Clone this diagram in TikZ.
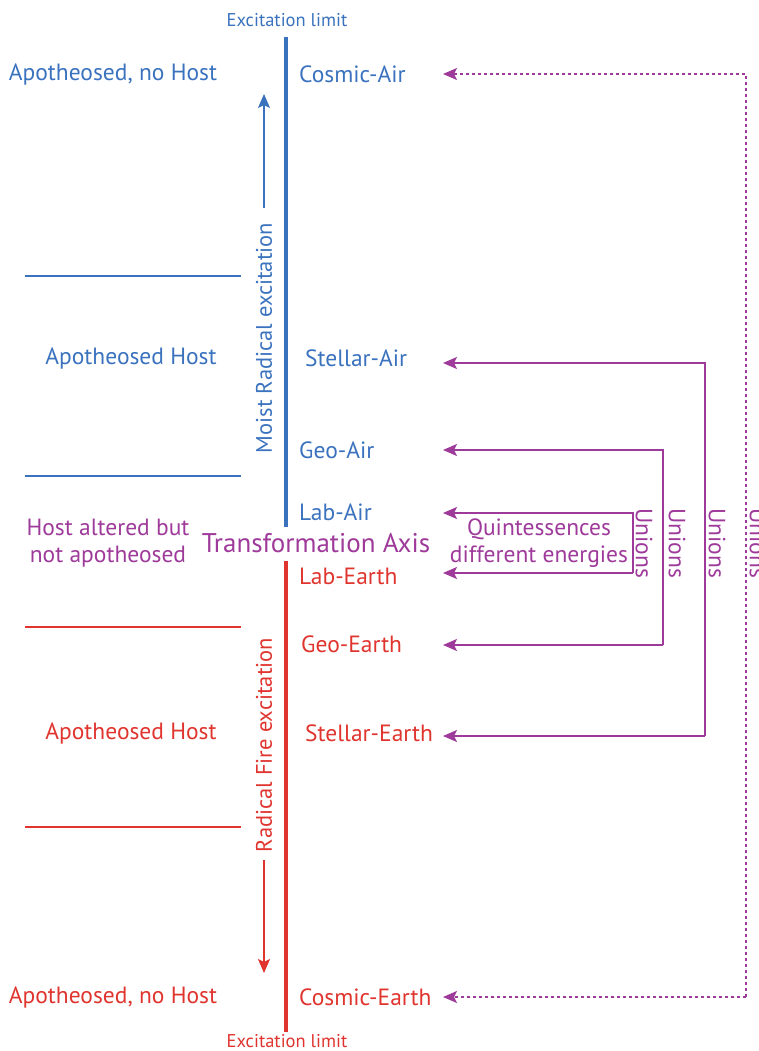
\documentclass[tikz,border=0pt]{standalone}
\usepackage{fontspec}
\setmainfont{PT Sans}
\usetikzlibrary{arrows.meta}
\definecolor{cblue}{RGB}{58,114,190}
\definecolor{cred}{RGB}{224,52,46}
\definecolor{cpurp}{RGB}{158,58,154}
\tikzset{
  lbl/.style={font=\fontsize{23.5}{27.5}\selectfont, inner sep=0pt},
  small/.style={font=\fontsize{18.5}{22}\selectfont, inner sep=0pt},
  axisline/.style={line width=4pt},
  sep/.style={line width=1.5pt},
  union/.style={cpurp, line width=1.8pt, -{Stealth[length=14pt,width=12pt,inset=3pt]}},
  dir/.style={line width=1.5pt, -{Stealth[length=14pt,width=12pt,inset=3pt]}},
}
\begin{document}
\begin{tikzpicture}[x=1pt,y=-1pt]
\useasboundingbox (0,0) rectangle (759,1051);
% axes
\coordinate (bt) at (286,37);
\coordinate (bb) at (286,527);
\coordinate (rt) at (286,561);
\coordinate (rb) at (286,1032);
\draw[cblue,axisline] (bt) -- (bb);
\draw[cred,axisline] (rt) -- (rb);
\node[small,cblue] (exl1) at (287,20) {Excitation limit};
\node[small,cred] (exl2) at (287,1041) {Excitation limit};
% direction labels
\node[font=\fontsize{22.5}{26}\selectfont,inner sep=0pt,cblue,rotate=90] (moist) at (264,338) {Moist Radical excitation};
\coordinate (m1) at (264,208);
\coordinate (m2) at (264,94);
\draw[cblue,dir] (m1) -- (m2);
\node[font=\fontsize{22.5}{26}\selectfont,inner sep=0pt,cred,rotate=90] (fire) at (264,745) {Radical Fire excitation};
\coordinate (f1) at (264,860);
\coordinate (f2) at (264,973);
\draw[cred,dir] (f1) -- (f2);
% separators
\coordinate (s1a) at (25,276); \coordinate (s1b) at (241,276);
\coordinate (s2a) at (25,476); \coordinate (s2b) at (241,476);
\coordinate (s3a) at (25,627); \coordinate (s3b) at (241,627);
\coordinate (s4a) at (25,827); \coordinate (s4b) at (241,827);
\draw[cblue,sep] (s1a) -- (s1b);
\draw[cblue,sep] (s2a) -- (s2b);
\draw[cred,sep] (s3a) -- (s3b);
\draw[cred,sep] (s4a) -- (s4b);
% left labels
\node[lbl,cblue] (l1) at (113,74) {Apotheosed, no Host};
\node[lbl,cblue] (l2) at (131,358) {Apotheosed Host};
\node[lbl,cpurp,align=center] (l3) at (108,543) {Host altered but\\not apotheosed};
\node[lbl,cred] (l4) at (131,733) {Apotheosed Host};
\node[lbl,cred] (l5) at (113,997) {Apotheosed, no Host};
% right labels
\node[lbl,cblue,anchor=west] (ca) at (299,74) {Cosmic-Air};
\node[lbl,cblue,anchor=west] (sa) at (305,358) {Stellar-Air};
\node[lbl,cblue,anchor=west] (ga) at (299,450) {Geo-Air};
\node[lbl,cblue,anchor=west] (la) at (299,512) {Lab-Air};
\node[font=\fontsize{27}{30}\selectfont,inner sep=0pt,cpurp] (ta) at (316,543) {Transformation Axis};
\node[lbl,cred,anchor=west] (le) at (299,576) {Lab-Earth};
\node[lbl,cred,anchor=west] (ge) at (301,644) {Geo-Earth};
\node[lbl,cred,anchor=west] (se) at (305,733) {Stellar-Earth};
\node[lbl,cred,anchor=west] (ce) at (299,997) {Cosmic-Earth};
% arrow end coordinates
\coordinate (pca) at (443,74);
\coordinate (pce) at (443,997);
\coordinate (psa) at (443,363);
\coordinate (pse) at (443,736);
\coordinate (pga) at (443,450);
\coordinate (pge) at (443,645);
\coordinate (pla) at (443,513);
\coordinate (ple) at (443,573);
% unions
\draw[union,dash pattern=on 3pt off 3pt,line width=1.5pt] (746,997) -- (746,74) -- (pca);
\draw[union,dash pattern=on 3pt off 3pt,line width=1.5pt] (746,997) -- (pce);
\draw[union] (705,736) -- (705,363) -- (psa);
\draw[union] (705,736) -- (pse);
\draw[union] (663,645) -- (663,450) -- (pga);
\draw[union] (663,645) -- (pge);
\draw[union] (633,573) -- (633,513) -- (pla);
\draw[union] (633,573) -- (ple);
\node[lbl,cpurp,rotate=-90] (u1) at (644,543) {Unions};
\node[lbl,cpurp,rotate=-90] (u2) at (677,543) {Unions};
\node[lbl,cpurp,rotate=-90] (u3) at (717,543) {Unions};
\node[lbl,cpurp,rotate=-90] (u4) at (758,543) {Unions};
\node[lbl,cpurp,align=center] (q) at (539,543) {Quintessences\\different energies};
\end{tikzpicture}
\end{document}
